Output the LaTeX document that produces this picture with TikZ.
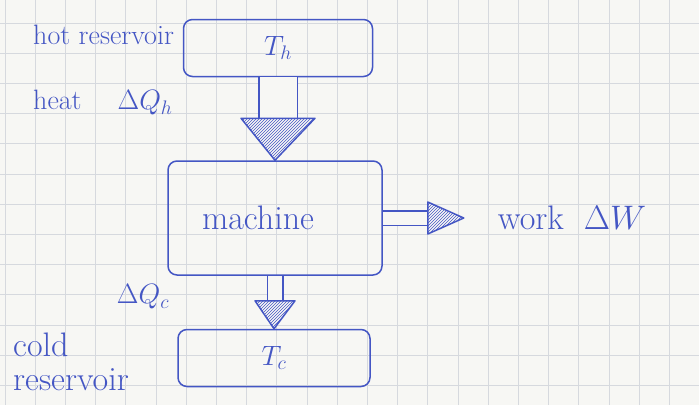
\RequirePackage{fix-cm}
\documentclass[tikz,border=0pt]{standalone}
\usetikzlibrary{positioning,patterns}

\definecolor{ink}{RGB}{68,86,196}
\definecolor{paper}{RGB}{247,247,244}
\definecolor{squares}{RGB}{214,217,222}
\newcommand\handfont{\fontsize{28}{31}\selectfont}
\newcommand\bighand{\fontsize{34}{34}\selectfont}

\tikzset{
  pen/.style={draw=ink, line width=1.5pt, line join=round},
  box/.style={pen, rounded corners=9pt, font=\handfont, text=ink},
  note/.style={text=ink, font=\handfont, inner sep=0pt},
  shaft/.style={pen, double=paper},
  head/.style={pen, preaction={fill=paper}, pattern=north east lines, pattern color=ink},
}

\begin{document}
\begin{tikzpicture}[x=1pt,y=-1pt]
  % squared paper
  \fill[paper] (0,0) rectangle (699,405);
  \useasboundingbox (0,0) rectangle (699,405);
  \foreach \k in {0,...,22}
    \draw[squares, line width=0.8pt] ({5+30.2*\k},0) -- ++(0,405);
  \foreach \k in {0,...,12}
    \draw[squares, line width=0.8pt] (0,{23+30.2*\k}) -- ++(699,0);

  % reservoirs and machine
  \node[box, minimum width=189, minimum height=57] (hot) at (278,48) {$T_h$};
  \node[box, minimum width=214, minimum height=114] (machine) at (275,218) {};
  \node[box, minimum width=192, minimum height=57] (cold) at (274,358) {$T_c$};
  \node[note, font=\bighand] (machlbl) at (258,218) {machine};

  % heat in
  \coordinate[below=41pt of hot.south] (qhtop);
  \draw[shaft, double distance=37pt] (hot.south) -- (qhtop);
  \draw[head] ([xshift=-37pt]qhtop) -- ([xshift=37pt]qhtop) -- (machine.north) -- cycle;

  % heat out
  \coordinate[below=25pt of machine.south] (qctop);
  \draw[shaft, double distance=14pt] (machine.south) -- (qctop);
  \draw[head] ([xshift=-20pt]qctop) -- ([xshift=20pt]qctop) -- (cold.north) -- cycle;

  % work
  \coordinate[right=45pt of machine.east] (wtop);
  \coordinate[right=36pt of wtop] (wtip);
  \draw[shaft, double distance=13pt] (machine.east) -- (wtop);
  \draw[head] ([yshift=16pt]wtop) -- ([yshift=-16pt]wtop) -- (wtip) -- cycle;

  % labels
  \node[note, anchor=west] (hotlbl) at (33,35) {hot reservoir};
  \node[note, anchor=west] (heatlbl) at (33,103) {heat\hspace{36pt}$\Delta Q_h$};
  \node[note] (qclbl) at (143,297) {$\Delta Q_c$};
  \node[note, font=\bighand, anchor=west, align=left] (coldlbl) at (13,362) {cold\\reservoir};
  \node[note, font=\bighand, anchor=west, right=34pt of wtip] (worklbl) {work\hspace{20pt}$\Delta W$};
\end{tikzpicture}
\end{document}
